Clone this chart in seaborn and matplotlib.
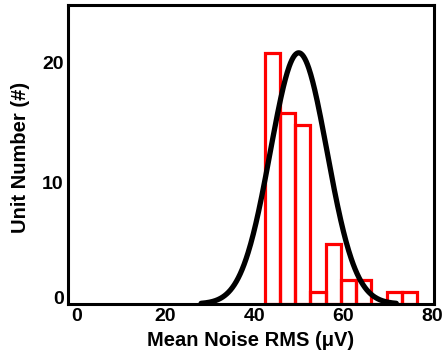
import numpy as np
import pandas as pd
import matplotlib
matplotlib.use("Agg")
import matplotlib.pyplot as plt
import matplotlib.transforms as mtransforms
import seaborn as sns

# Histogram data (bin edges and counts)
bin_edges = [42.3, 45.74, 49.18, 52.62, 56.06, 59.5, 62.94, 66.38, 69.82, 73.26, 76.7]
counts = [21, 16, 15, 1, 5, 2, 2, 0, 1, 1]

# Gaussian fit parameters
fit_mean = 50.0
fit_sigma = 6.4
fit_amp = 21.0
fit_range = [28.0, 72.0]

x_ticks = [0, 20, 40, 60, 80]
y_ticks = [0, 10, 20]

sns.set_theme(style="white")
plt.rcParams['font.family'] = ['Liberation Sans', 'DejaVu Sans']
plt.rcParams['font.weight'] = 'bold'

fig = plt.figure(figsize=(4.46, 3.61), dpi=100)
ax = fig.add_axes([68/446, 57/361, (434-68)/446, (304-5)/361])

centers = [(bin_edges[i] + bin_edges[i+1]) / 2 for i in range(len(counts))]
df = pd.DataFrame({"x": centers, "w": counts})
sns.histplot(data=df, x="x", weights="w", bins=bin_edges, fill=False,
             color="#ff0000", linewidth=2.3, ax=ax)

xs = np.linspace(fit_range[0], fit_range[1], 300)
ys = fit_amp * np.exp(-0.5 * ((xs - fit_mean) / fit_sigma) ** 2)
sns.lineplot(x=xs, y=ys, color="black", linewidth=3.8, ax=ax)

ax.set_xlim(-2, 80.5)
ax.set_ylim(0, 25)
ax.set_xticks(x_ticks)
ax.set_yticks(y_ticks)
ax.tick_params(direction="in", length=3, width=2, labelsize=14, pad=3,
               colors="black", labelcolor="black")
for lab in ax.get_xticklabels() + ax.get_yticklabels():
    lab.set_fontweight("bold")
# raise the y tick labels slightly, the "0" more, as in the reference
ylabs = ax.get_yticklabels()
for lab, dy in zip(ylabs, [6, 2, 2]):
    lab.set_transform(lab.get_transform() +
                      mtransforms.ScaledTranslation(0, dy / 100, fig.dpi_scale_trans))
for s in ax.spines.values():
    s.set_linewidth(2.2)
    s.set_color("black")
ax.set_xlabel("Mean Noise RMS (μV)", fontsize=14.5, fontweight="bold",
              labelpad=4, color="black")
ax.set_ylabel("Unit Number (#)", fontsize=14.5, fontweight="bold",
              color="black")
ax.yaxis.set_label_coords(-0.103, 0.49)

fig.savefig("out.png", dpi=100)
